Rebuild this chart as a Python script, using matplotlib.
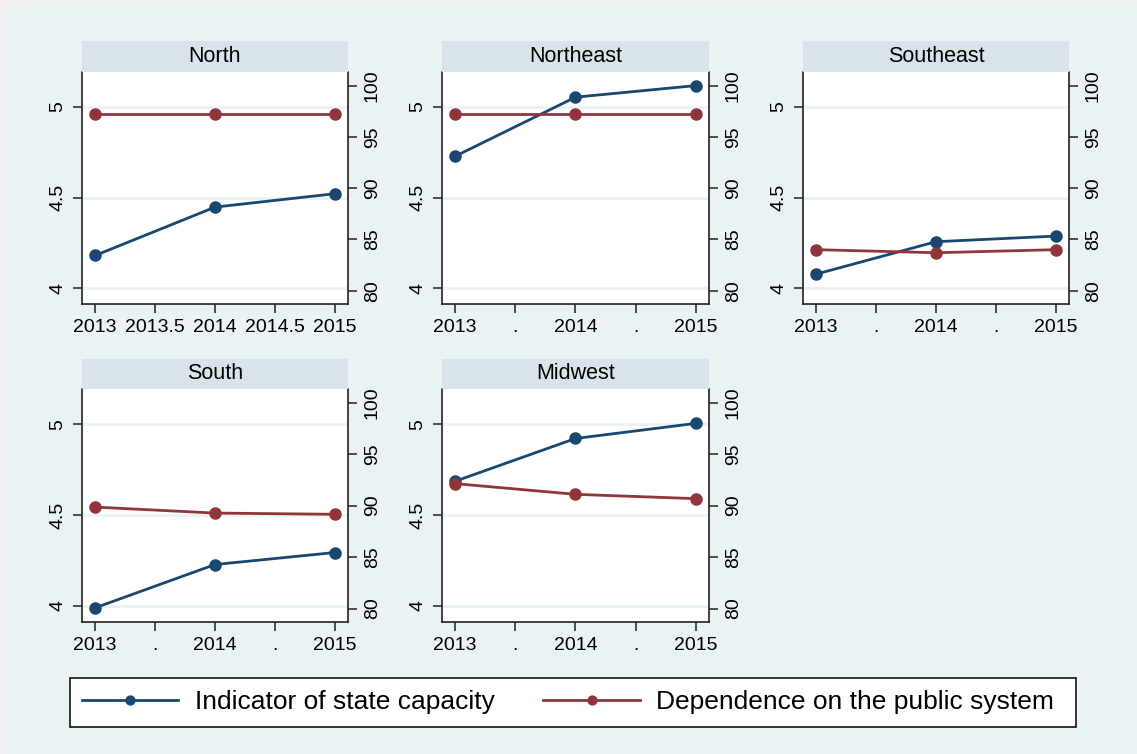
import matplotlib
matplotlib.use("Agg")
import matplotlib.pyplot as plt
from matplotlib.patches import Rectangle

plt.rcParams['font.family'] = ['Liberation Sans', 'DejaVu Sans']

# data
regions = ["North", "Northeast", "Southeast", "South", "Midwest"]
years = [2013, 2014, 2015]

# indicator of state capacity (left axis)
cap_north = [4.18, 4.447, 4.521]
cap_northeast = [4.728, 5.054, 5.118]
cap_southeast = [4.077, 4.256, 4.287]
cap_south = [3.99, 4.228, 4.294]
cap_midwest = [4.686, 4.921, 5.004]

# dependence on the public system (right axis)
dep_north = [97.2, 97.2, 97.2]
dep_northeast = [97.2, 97.2, 97.2]
dep_southeast = [84.0, 83.7, 84.0]
dep_south = [89.86, 89.28, 89.16]
dep_midwest = [92.14, 91.1, 90.68]

capacity = [cap_north, cap_northeast, cap_southeast, cap_south, cap_midwest]
dependence = [dep_north, dep_northeast, dep_southeast, dep_south, dep_midwest]

x_ticks = [2013, 2013.5, 2014, 2014.5, 2015]
x_labels_first = ["2013", "2013.5", "2014", "2014.5", "2015"]
x_labels_other = ["2013", ".", "2014", ".", "2015"]
left_ticks = [4, 4.5, 5]
left_labels = ["4", "4.5", "5"]
right_ticks = [80, 85, 90, 95, 100]
right_labels = ["80", "85", "90", "95", "100"]

series_names = ["Indicator of state capacity", "Dependence on the public system"]

# colours (Stata s2color)
navy = "#1a476f"
maroon = "#90353b"
bg = "#eaf2f3"
strip_col = "#d8e4ea"

W, H = 1137, 754
fig = plt.figure(figsize=(W / 100, H / 100), dpi=100, facecolor=bg)


def box(x0, y0, x1, y1):
    # pixel box (top-left origin) -> figure fraction
    return [x0 / W, 1 - y1 / H, (x1 - x0) / W, (y1 - y0) / H]


# screenshot edge strips
fig.patches.append(Rectangle((0, 1 - 5 / H), 1, 5 / H, transform=fig.transFigure,
                             facecolor="#f0f0f0", edgecolor="none", zorder=0))
fig.patches.append(Rectangle((0, 0), 3 / W, 1, transform=fig.transFigure,
                             facecolor="#f0f0f0", edgecolor="none", zorder=0))

cols = [(82, 348), (442, 709), (803, 1069)]
rows = [(41, 72, 304), (359, 389, 622)]

lines = []
for i, name in enumerate(regions):
    x0, x1 = cols[i % 3]
    ys, yt, yb = rows[i // 3]

    ax = fig.add_axes(box(x0, yt, x1, yb))
    ax.set_facecolor("white")
    ax.set_xlim(2012.89, 2015.11)
    ax.set_ylim(3.912, 5.193)
    ax.set_xticks(x_ticks)
    if i == 0:
        ax.set_xticklabels(x_labels_first)
    else:
        ax.set_xticklabels(x_labels_other)
    ax.set_yticks(left_ticks)
    ax.set_yticklabels(left_labels, rotation=90, va="center")
    ax.grid(axis="y", color=bg, lw=2)
    ax.set_axisbelow(True)
    ax.spines["top"].set_visible(False)
    ax.spines["right"].set_visible(False)
    for s in ["left", "bottom"]:
        ax.spines[s].set_linewidth(1.2)
        ax.spines[s].set_color("#222222")
    ax.tick_params(labelsize=14, length=6.5, width=1.1, color="#222222", pad=4)
    ax.tick_params(axis="y", pad=5)

    l1, = ax.plot(years, capacity[i], color=navy, lw=2.0, marker="o", ms=8, zorder=3)

    ax2 = ax.twinx()
    ax2.set_ylim(78.7, 101.33)
    ax2.set_yticks(right_ticks)
    ax2.set_yticklabels(right_labels, rotation=90, va="center")
    ax2.spines["top"].set_visible(False)
    ax2.spines["left"].set_visible(False)
    ax2.spines["bottom"].set_visible(False)
    ax2.spines["right"].set_linewidth(1.2)
    ax2.spines["right"].set_color("#222222")
    ax2.tick_params(labelsize=14, length=6.5, width=1.1, color="#222222", pad=5)

    l2, = ax2.plot(years, dependence[i], color=maroon, lw=2.0, marker="o", ms=8, zorder=3)
    if i == 0:
        lines = [l1, l2]

    # panel title strip
    sx = fig.add_axes(box(x0, ys, x1, yt))
    sx.set_facecolor(strip_col)
    sx.set_xticks([])
    sx.set_yticks([])
    for s in sx.spines.values():
        s.set_visible(False)
    sx.text(0.5, 0.5, name, ha="center", va="center", fontsize=15.5, transform=sx.transAxes)

# legend box
fig.patches.append(Rectangle((70 / W, 1 - 727 / H), 1006 / W, 49 / H,
                             transform=fig.transFigure, facecolor="white",
                             edgecolor="#111111", lw=1.2, zorder=1))
leg = fig.legend(lines, series_names, loc="center left",
                 bbox_to_anchor=(82 / W, 1 - 702.5 / H), ncol=2, frameon=False,
                 fontsize=19, handlelength=3.65, handletextpad=0.62,
                 columnspacing=1.85, borderpad=0, borderaxespad=0, markerscale=0.8)
leg.set_zorder(2)

fig.savefig("out.png", dpi=100, facecolor=bg)
